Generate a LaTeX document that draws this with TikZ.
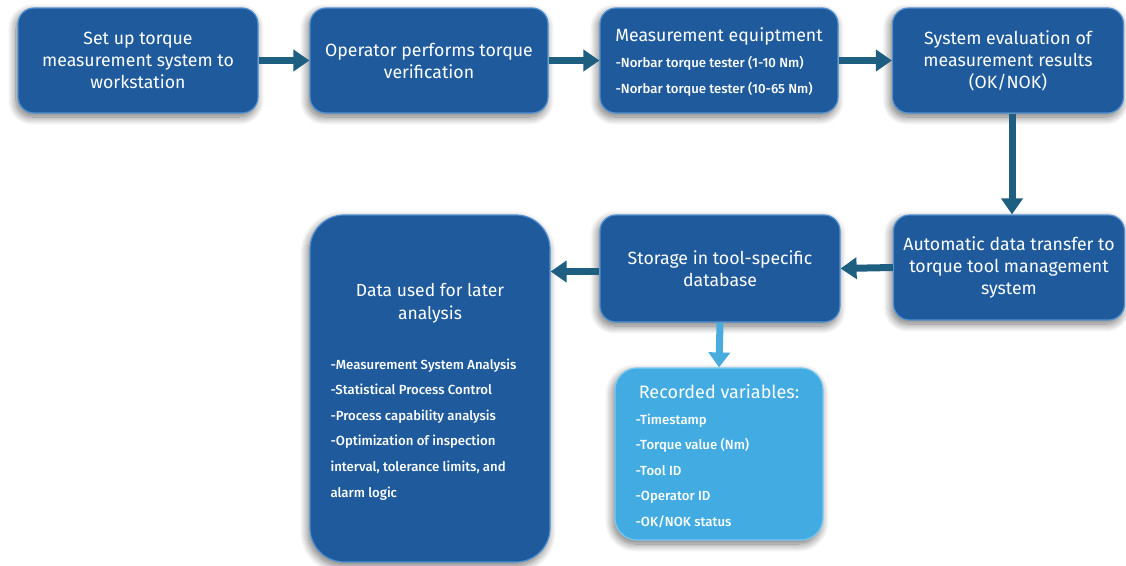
\documentclass[tikz,border=0pt]{standalone}
\usepackage{fontspec}
\setmainfont{Fira Sans}
\newfontfamily\listfont{Fira Sans}[UprightFont={* Medium}]
\usetikzlibrary{arrows.meta,shadows.blur,calc}
\definecolor{boxblue}{RGB}{31,91,156}
\definecolor{edgeblue}{RGB}{80,145,210}
\definecolor{lightbox}{RGB}{66,172,226}
\definecolor{lightedge}{RGB}{120,200,240}
\definecolor{arrowdark}{RGB}{30,94,128}
\definecolor{arrowlight}{RGB}{72,172,222}
\tikzset{
  stepbox/.style={rectangle, rounded corners=16pt, fill=boxblue, draw=edgeblue, line width=1.2pt,
    blur shadow={shadow xshift=-2pt, shadow yshift=-4pt, shadow blur steps=12, shadow opacity=55, shadow blur radius=8pt},
    minimum height=105pt, inner sep=0pt},
  lightbox/.style={stepbox, fill=lightbox, draw=lightedge, rounded corners=22pt},
  boxtext/.style={text=white, align=center, font=\fontsize{17.7}{22}\selectfont},
  listtext/.style={text=white, align=left, font=\listfont\fontsize{13.2}{25.6}\selectfont},
  flow/.style={arrowdark, line width=7pt, -{Triangle[length=16pt,width=21pt]}},
  flowlight/.style={arrowlight, line width=7pt, -{Triangle[length=15pt,width=21pt]}}
}
\begin{document}
\begin{tikzpicture}[x=1pt,y=-1pt]
\useasboundingbox (0,0) rectangle (1126,565);
% boxes
\node[stepbox, minimum width=240pt] (b1) at (138,60.5) {};
\node[stepbox, minimum width=238pt] (b2) at (429,60.5) {};
\node[stepbox, minimum width=238pt] (b3) at (719,60.5) {};
\node[stepbox, minimum width=231pt] (b4) at (1008,60.5) {};
\node[stepbox, minimum width=231pt] (b5) at (1009,267.5) {};
\node[stepbox, minimum width=240pt, minimum height=107pt] (b6) at (720,268.5) {};
\node[stepbox, minimum width=240pt, minimum height=347pt, rounded corners=34pt] (b7) at (430,388.5) {};
\node[lightbox, minimum width=208pt, minimum height=172pt] (b8) at (719,454) {};
% texts
\node[boxtext] (t1) at (b1) {Set up torque\\measurement system to\\workstation};
\node[boxtext] (t2) at (b2) {Operator performs torque\\verification};
\node[boxtext] (t3) at (719,36) {Measurement equiptment};
\node[listtext, anchor=north west] (l3) at (612,53) {-Norbar torque tester (1-10 Nm)\\-Norbar torque tester (10-65 Nm)};
\node[boxtext] (t4) at (b4) {System evaluation of\\measurement results\\(OK/NOK)};
\node[boxtext] (t5) at (b5) {Automatic data transfer to\\torque tool management\\system};
\node[boxtext] (t6) at (b6) {Storage in tool-specific\\database};
\node[boxtext, font=\fontsize{17.5}{23}\selectfont] (t7) at (430,303) {Data used for later\\analysis};
\node[listtext, anchor=north west] (l7) at (327,355) {-Measurement System Analysis\\-Statistical Process Control\\-Process capability analysis\\-Optimization of inspection\\interval, tolerance limits, and\\alarm logic};
\node[boxtext, font=\fontsize{18}{20}\selectfont] (t8) at (719,392) {Recorded variables:};
\node[listtext, anchor=north west] (l8) at (632,410) {-Timestamp\\-Torque value (Nm)\\-Tool ID\\-Operator ID\\-OK/NOK status};
% connectors
\coordinate (d4) at (1012,0);
\coordinate (a6) at ($(b6.west)+(0,3)$);
\draw[flow] (b1.east) -- (b2.west);
\draw[flow] (b2.east) -- (b3.west);
\draw[flow] (b3.east) -- (b4.west);
\draw[flow] (b4.south -| d4) -- (b5.north -| d4);
\draw[flow] (b5.west) -- (b6.east);
\draw[flow] (a6) -- (a6 -| b7.east);
\draw[flowlight] (b6.south) -- (b8.north);
\end{tikzpicture}
\end{document}
